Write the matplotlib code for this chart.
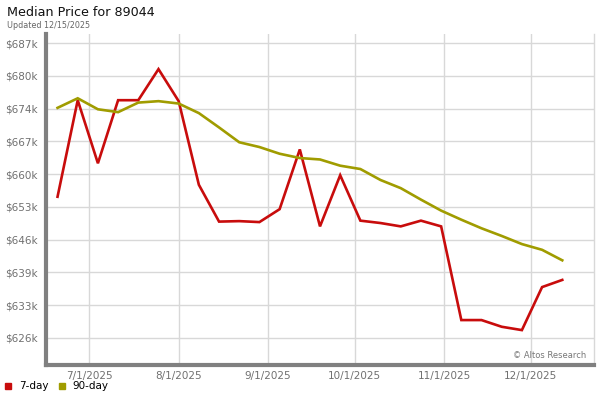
import datetime as dt
import matplotlib
matplotlib.use("Agg")
import matplotlib.pyplot as plt

# ------------------------------------------------------------
# DATA (weekly, thousands of dollars)
# ------------------------------------------------------------

start = dt.date(2025, 6, 20)
dates = [start + dt.timedelta(days=7 * i) for i in range(26)]

price_7day = [655.2, 675.4, 662.2, 675.4, 675.4, 681.9, 675.2, 657.7, 650.0, 650.1,
              649.9, 652.6, 665.1, 649.0, 659.7, 650.2, 649.7, 649.0, 650.2, 649.0,
              629.4, 629.4, 628.0, 627.3, 636.3, 637.8]

price_90day = [673.8, 675.8, 673.5, 672.9, 674.9, 675.2, 674.7, 672.7, 669.7, 666.6,
               665.6, 664.2, 663.3, 663.0, 661.7, 661.0, 658.7, 657.0, 654.6, 652.3,
               650.4, 648.6, 647.0, 645.3, 644.1, 641.9]

ytick_vals = [625.67 + 6.85 * i for i in range(10)]
ytick_labels = ["$626k", "$633k", "$639k", "$646k", "$653k",
                "$660k", "$667k", "$674k", "$680k", "$687k"]

xtick_dates = [dt.date(2025, m, 1) for m in range(7, 13)]
xtick_labels = ["7/1/2025", "8/1/2025", "9/1/2025", "10/1/2025", "11/1/2025", "12/1/2025"]

RED = "#c80c0c"
OLIVE = "#a09c00"

# ------------------------------------------------------------
# FIGURE
# ------------------------------------------------------------

fig = plt.figure(figsize=(6, 4), dpi=100)
ax = fig.add_axes([46 / 600, 1 - 365 / 400, 548 / 600, 331 / 400])

ax.plot(dates, price_7day, color=RED, lw=1.9, solid_joinstyle="miter", zorder=3)
ax.plot(dates, price_90day, color=OLIVE, lw=1.9, solid_joinstyle="miter", zorder=3)

ax.set_xlim(dt.date(2025, 6, 16) + dt.timedelta(hours=8), dt.date(2025, 12, 23) + dt.timedelta(hours=12))
ax.set_ylim(620.0, 689.25)

ax.set_yticks(ytick_vals)
ax.set_yticklabels(ytick_labels)
ax.set_xticks(xtick_dates)
ax.set_xticklabels(xtick_labels)

ax.grid(True, color="#d8d8d8", lw=1.0, zorder=0)
ax.tick_params(length=0, labelsize=7.5, labelcolor="#707070", pad=6)
ax.tick_params(axis="x", pad=4)

ax.spines["top"].set_visible(False)
ax.spines["right"].set_color("#d8d8d8")
ax.spines["right"].set_linewidth(1.0)
ax.spines["left"].set_color("#808080")
ax.spines["left"].set_linewidth(3.0)
ax.spines["bottom"].set_color("#808080")
ax.spines["bottom"].set_linewidth(3.0)

# titles
fig.text(7 / 600, 1 - 13 / 400, "Median Price for 89044", fontsize=9.2, color="#111111", va="center")
fig.text(7 / 600, 1 - 25 / 400, "Updated 12/15/2025", fontsize=5.8, color="#666666", va="center")

# watermark
ax.text(0.985, 0.03, "\u00a9 Altos Research", transform=ax.transAxes, fontsize=6,
        color="#777777", ha="right", va="center")

# legend
fig.patches.append(plt.Rectangle((5 / 600, 1 - 389 / 400), 6 / 600, 6 / 400,
                                 transform=fig.transFigure, color=RED))
fig.text(19 / 600, 1 - 386 / 400, "7-day", fontsize=7.5, va="center")
fig.patches.append(plt.Rectangle((59 / 600, 1 - 389 / 400), 6 / 600, 6 / 400,
                                 transform=fig.transFigure, color=OLIVE))
fig.text(72 / 600, 1 - 386 / 400, "90-day", fontsize=7.5, va="center")

fig.savefig("out.png", dpi=100)
